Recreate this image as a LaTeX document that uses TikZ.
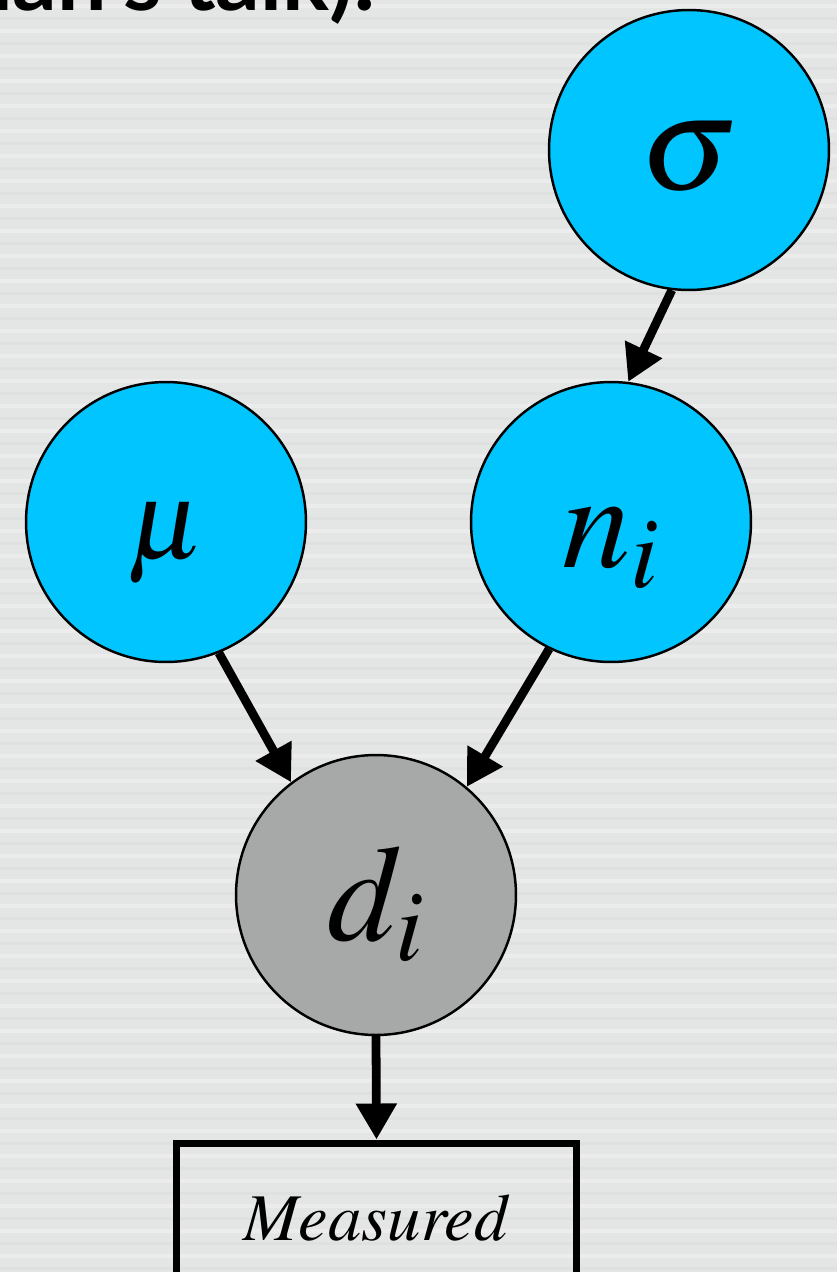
\documentclass[tikz,border=0pt]{standalone}
\usepackage{fontspec}
\usepackage{mathptmx}
\newfontfamily\headfont{Lato}
\usetikzlibrary{positioning,arrows.meta}
\definecolor{nodeblue}{HTML}{00C5FF}
\definecolor{nodegray}{HTML}{A7A9A8}
\definecolor{backgr}{HTML}{E4E5E5}

\begin{document}
\begin{tikzpicture}[x=0.02cm,y=-0.02cm,>={Triangle[length=0.72cm,width=0.78cm]},
  var/.style={circle,draw,line width=1.4pt,minimum size=5.6cm,inner sep=0pt,fill=nodeblue},
  obs/.style={var,fill=nodegray},
  edge/.style={->,line width=5pt}]
\clip (0,0) rectangle (837,1272);
\fill[backgr] (0,0) rectangle (837,1272);
\foreach \y in {6,31,...,1272}
  \draw[white,opacity=0.3,line width=0.08cm] (0,\y) -- (837,\y);
\foreach \y in {18,43,...,1272}
  \draw[black,opacity=0.02,line width=0.06cm] (0,\y) -- (837,\y);
\node[anchor=base east,font=\headfont\bfseries\fontsize{50}{60}\selectfont] (head) at (382,10) {Alan's talk):};
\node[var,font=\fontsize{78}{84}\selectfont] (sigma) at (689,150) {\raisebox{-0.8cm}[0pt][0pt]{$\sigma$}};
\node[var,font=\fontsize{64}{70}\selectfont] (mu) at (166,522) {\raisebox{-0.72cm}[0pt][0pt]{$\mu$}};
\node[var,font=\fontsize{78}{84}\selectfont] (ni) at (611,522) {\raisebox{-0.9cm}[0pt][0pt]{$n_i$}};
\node[obs,font=\fontsize{78}{84}\selectfont] (di) at (376,895) {\raisebox{-0.9cm}[0pt][0pt]{$d_i$}};
\node[draw,line width=4pt,minimum width=8.02cm,minimum height=3cm,font=\fontsize{38}{45}\selectfont] (meas) at (376.5,1218) {$\mathit{Measured}$};
\draw[edge] (sigma.263) -- (ni.83);
\draw[edge] (mu.-68) -- (di.127);
\draw[edge] (ni.244) -- (di.50);
\draw[edge] (di.south) -- (meas.north);
\end{tikzpicture}
\end{document}
